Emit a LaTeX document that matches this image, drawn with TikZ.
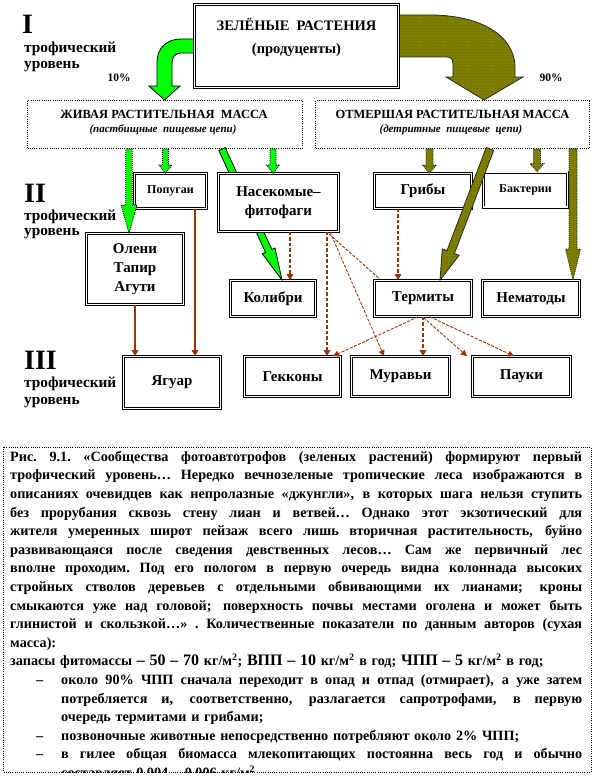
\documentclass[tikz,border=0pt]{standalone}
\usepackage{fontspec}
\setmainfont{Liberation Serif}
\usetikzlibrary{calc,arrows.meta,patterns}
\definecolor{lgreen}{RGB}{0,255,0}
\definecolor{olv}{RGB}{128,128,0}
\definecolor{brn}{RGB}{153,51,0}
\newcommand\blockarr[6]{%
  \coordinate (bahead) at ($(#2)!#5!(#1)$);
  \filldraw[#6] ($(#1)!#3!90:(#2)$) -- ($(bahead)!#3!90:(#2)$) -- ($(bahead)!#4!90:(#2)$) -- (#2) -- ($(bahead)!#4!-90:(#2)$) -- ($(bahead)!#3!-90:(#2)$) -- ($(#1)!#3!-90:(#2)$) -- cycle;}
\newcommand\jline[2]{\leavevmode\hbox to #1{\spaceskip=0.25em plus 1em minus 0.05em\xspaceskip=\spaceskip #2}}
\begin{document}
\begin{tikzpicture}[x=1pt,y=-1pt,
  dbox/.style={draw, double, double distance=1.5pt, line width=0.75pt, fill=white, inner sep=0pt, align=center, font=\bfseries\fontsize{15}{19}\selectfont},
  smallt/.style={font=\bfseries\fontsize{12}{14}\selectfont},
  dotbox/.style={draw, line width=0.8pt, dash pattern=on 1pt off 1.2pt, fill=white, inner sep=0pt},
  garr/.style={fill=lgreen, draw=black, line width=0.8pt},
  garrdot/.style={fill=lgreen, draw=black, line width=0.8pt, dash pattern=on 1pt off 1pt},
  oarr/.style={fill=olv, draw=black!85, line width=0.8pt, postaction={pattern=dots, pattern color=olv!55!black}},
  oarrdot/.style={oarr, dash pattern=on 1pt off 1pt},
  barr/.style={draw=brn, line width=1.7pt, -{Triangle[length=6pt,width=6.5pt]}},
  bdash/.style={barr, dash pattern=on 3.5pt off 2pt},
  bdiag/.style={draw=brn, line width=0.9pt, dash pattern=on 3pt off 1.5pt, -{Triangle[length=6pt,width=6pt]}},
  lvlnum/.style={anchor=west, inner sep=0pt, font=\bfseries\fontsize{28}{28}\selectfont},
  lvltxt/.style={anchor=west, inner sep=0pt, font=\bfseries\fontsize{15.3}{16}\selectfont},
  pct/.style={inner sep=0pt, font=\bfseries\fontsize{11.5}{13}\selectfont}
]
\useasboundingbox (0,0) rectangle (594,776);

% ---------- level labels ----------
\node[lvlnum] (n1) at (22,24) {I};
\node[lvltxt] (t1a) at (24,49) {трофический};
\node[lvltxt] (t1b) at (24,67) {уровень};
\node[lvlnum] (n2) at (24,193) {II};
\node[lvltxt] (t2a) at (24,217) {трофический};
\node[lvltxt] (t2b) at (24,234) {уровень};
\node[lvlnum] (n3) at (24,360) {III};
\node[lvltxt] (t3a) at (24,384) {трофический};
\node[lvltxt] (t3b) at (24,403) {уровень};
\node[pct] (p10) at (119,78) {10\%};
\node[pct] (p90) at (551,78) {90\%};

% ---------- curved arrows from producers ----------
\filldraw[garr] (195,39) -- (181,39) .. controls (167,39) and (157,48) .. (157,62) -- (157,86) -- (149,86) -- (164.5,100) -- (180,86) -- (172,86) -- (172,64) .. controls (172,57) and (175,53) .. (181,53) -- (195,53) -- cycle;
\filldraw[oarr] (398,15) -- (430,15) .. controls (480,15) and (515,35) .. (515,68) -- (515,77) -- (523,77) -- (484,100) -- (446,77) -- (453,77) -- (453,64) .. controls (453,59) and (451,57) .. (447,57) -- (398,57) -- cycle;

% ---------- producers ----------
\node[dbox, minimum width=204pt, minimum height=83pt] (top) at (296.5,46) {};
\node[inner sep=0pt, font=\bfseries\fontsize{14.5}{16}\selectfont] (topt) at (296.5,25) {ЗЕЛЁНЫЕ\ \ РАСТЕНИЯ};
\node[inner sep=0pt, font=\bfseries\fontsize{14.5}{16}\selectfont] (tops) at (296.5,50) {(продуценты)};

\node[dotbox, minimum width=275pt, minimum height=48pt] (live) at (165,124.5) {};
\node[inner sep=0pt, font=\bfseries\fontsize{12.5}{14}\selectfont] (livet) at (164,114) {ЖИВАЯ РАСТИТЕЛЬНАЯ\ \ МАССА};
\node[inner sep=0pt, font=\bfseries\itshape\fontsize{11}{13}\selectfont] (lives) at (163,130) {(пастбищные\ \ пищевые цепи)};
\node[dotbox, minimum width=274pt, minimum height=48pt] (dead) at (452.5,124.5) {};
\node[inner sep=0pt, font=\bfseries\fontsize{12.5}{14}\selectfont] (deadt) at (452.5,114) {ОТМЕРШАЯ\ РАСТИТЕЛЬНАЯ\ МАССА};
\node[inner sep=0pt, font=\bfseries\itshape\fontsize{11}{13}\selectfont] (deads) at (451,130) {(детритные\ \ пищевые\ \ цепи)};

% ---------- level II / III boxes ----------
\node[dbox, minimum width=72pt, minimum height=35pt, smallt] (parrot) at (170.5,191) {Попугаи};
\node[dbox, minimum width=97pt, minimum height=35pt] (fungi) at (423,191) {Грибы};
\node[dbox, minimum width=84pt, minimum height=35pt, smallt] (bact) at (525.5,189.5) {\raisebox{1.5pt}{Бактерии}};
\node[dbox, minimum width=97pt, minimum height=71pt] (deer) at (135,269) {Олени\\Тапир\\Агути};
\node[dbox, minimum width=85pt, minimum height=36pt] (humm) at (273,298.5) {Колибри};
\node[dbox, minimum width=97pt, minimum height=36pt] (nema) at (531,298.5) {Нематоды};
\node[dbox, minimum width=97pt, minimum height=52pt] (jag) at (172,382.5) {Ягуар};
\node[dbox, minimum width=96pt, minimum height=40pt] (geck) at (292.5,376.5) {Гекконы};
\node[dbox, minimum width=98pt, minimum height=40pt] (ants) at (400.5,376.5) {Муравьи};
\node[dbox, minimum width=98pt, minimum height=40pt] (spid) at (521.5,376.5) {Пауки};

% arrows that pass behind boxes
\coordinate (g3a) at (222,149);
\coordinate (g3b) at (282,280);
\blockarr{g3a}{g3b}{3.5pt}{7pt}{32pt}{garr}
\draw[bdiag] (329,234) -- (spid.north -| 467,0);

\node[dbox, minimum width=120pt, minimum height=58pt] (insects) at (278.5,202.5) {Насекомые–\\фитофаги};
\node[dbox, minimum width=97pt, minimum height=36pt] (term) at (423,298.5) {Термиты};

% ---------- block arrows ----------
\coordinate (g1a) at (live.south -| 129,0);
\coordinate (g1b) at (deer.north -| 129,0);
\blockarr{g1a}{g1b}{3.2pt}{8pt}{28pt}{garrdot}
\coordinate (g2a) at (live.south -| 165.5,0);
\coordinate (g2b) at (parrot.north -| 165.5,0);
\blockarr{g2a}{g2b}{3pt}{6.5pt}{8pt}{garrdot}
\coordinate (g4a) at (live.south -| 273,0);
\coordinate (g4b) at (insects.north -| 273,0);
\blockarr{g4a}{g4b}{3pt}{6.5pt}{8pt}{garrdot}

\coordinate (o1a) at (dead.south -| 429.5,0);
\coordinate (o1b) at (fungi.north -| 429.5,0);
\blockarr{o1a}{o1b}{3.5pt}{7pt}{8pt}{oarrdot}
\coordinate (o2a) at (dead.south -| 537,0);
\coordinate (o2b) at (bact.north -| 537,0);
\blockarr{o2a}{o2b}{3.5pt}{7pt}{8pt}{oarrdot}
\coordinate (o3a) at (dead.south -| 573,0);
\coordinate (o3b) at (nema.north -| 573,0);
\blockarr{o3a}{o3b}{4pt}{7.5pt}{31pt}{oarrdot}
\coordinate (o4a) at (dead.south -| 490,0);
\coordinate (o4b) at (term.north -| 440,0);
\blockarr{o4a}{o4b}{4pt}{9pt}{30pt}{oarr}

% ---------- brown connectors ----------
\draw[barr] (deer.south) -- (jag.north -| deer.south);
\draw[barr] (parrot.south -| 195,0) -- (jag.north -| 195,0);
\draw[bdash] (insects.south -| 290,0) -- (humm.north -| 290,0);
\draw[bdash] (insects.south -| 327,0) -- (geck.north -| 327,0);
\draw[bdiag] (insects.south -| 330,0) -- (ants.north -| 384,0);
\draw[bdash] (fungi.south -| 398,0) -- (term.north -| 398,0);
\draw[bdiag] (term.south -| 418,0) -- (geck.north -| 333,0);
\draw[bdash] (term.south -| 423,0) -- (ants.north -| 423,0);
\draw[bdiag] (term.south -| 430,0) -- (spid.north -| 514,0);

% ---------- caption box ----------
\begin{scope}
\clip (3,447) rectangle (591,772);
\node[anchor=north west, inner sep=0pt, text width=572pt, align=left, font=\bfseries\fontsize{14.2}{18.6}\selectfont] (cap) at (10,451) {%
\jline{572pt}{Рис. 9.1. «Сообщества фотоавтотрофов (зеленых растений) формируют первый}\\
\jline{572pt}{трофический уровень… Нередко вечнозеленые тропические леса изображаются в}\\
\jline{572pt}{описаниях очевидцев как непролазные «джунгли», в которых шага нельзя ступить}\\
\jline{572pt}{без прорубания сквозь стену лиан и ветвей… Однако этот экзотический для}\\
\jline{572pt}{жителя умеренных широт пейзаж всего лишь вторичная растительность, буйно}\\
\jline{572pt}{развивающаяся после сведения девственных лесов… Сам же первичный лес}\\
\jline{572pt}{вполне проходим. Под его пологом в первую очередь видна колоннада высоких}\\
\jline{572pt}{стройных стволов деревьев с отдельными обвивающими их лианами; кроны}\\
\jline{572pt}{смыкаются уже над головой; поверхность почвы местами оголена и может быть}\\
\jline{572pt}{глинистой и скользкой…» . Количественные показатели по данным авторов (сухая}\\
масса):\\
\mbox{запасы фитомассы {\fontsize{16}{18.6}\selectfont – 50 – 70} кг/м\textsuperscript{2}; {\fontsize{16}{18.6}\selectfont ВПП – 10} кг/м\textsuperscript{2} в год; {\fontsize{16}{18.6}\selectfont ЧПП – 5} кг/м\textsuperscript{2} в год;}\\
\hspace*{26pt}\makebox[25pt][l]{–}\jline{521pt}{около 90\% ЧПП сначала переходит в опад и отпад (отмирает), а уже затем}\\
\hspace*{51pt}\jline{521pt}{потребляется и, соответственно, разлагается сапротрофами, в первую}\\
\hspace*{51pt}очередь термитами и грибами;\\
\hspace*{26pt}\makebox[25pt][l]{–}позвоночные животные непосредственно потребляют около 2\% ЧПП;\\
\hspace*{26pt}\makebox[25pt][l]{–}\jline{521pt}{в гилее общая биомасса млекопитающих постоянна весь год и обычно}\\
\hspace*{51pt}составляет 0,004 – 0,006 кг/м\textsuperscript{2}};
\end{scope}
\draw[line width=0.8pt, dash pattern=on 1pt off 1.2pt] (3,447) rectangle (591,772);
\end{tikzpicture}
\end{document}
